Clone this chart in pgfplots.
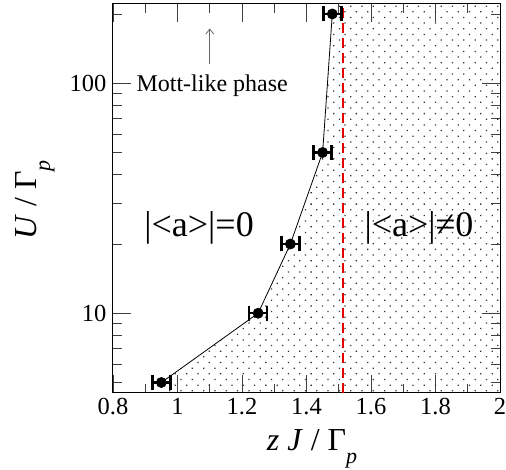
\documentclass[border=0pt]{standalone}
\usepackage{fontspec}
\setmainfont{Liberation Serif}
\usepackage{pgfplots}
\pgfplotsset{compat=1.18}
\usetikzlibrary{patterns.meta, arrows.meta}

\begin{document}
\begin{tikzpicture}
\path[use as bounding box] (-113bp,-77bp) rectangle (393bp,393bp);
\begin{axis}[
  at={(0,0)}, anchor=south west,
  width=387bp, height=389bp, scale only axis,
  ymode=log,
  xmin=0.8, xmax=2, ymin=4.5, ymax=221,
  xtick={0.8,1,1.2,1.4,1.6,1.8,2},
  xticklabels={0.8,1,1.2,1.4,1.6,1.8,2},
  minor xtick={0.9,1.1,1.3,1.5,1.7,1.9},
  ytick={10,100}, yticklabels={10,100},
  minor ytick={5,6,7,8,9,20,30,40,50,60,70,80,90,200},
  tick align=inside,
  major tick length=18bp, minor tick length=9bp,
  every tick/.style={black!75, line width=0.8bp},
  axis line style={line width=1bp},
  tick label style={font=\fontsize{24.5bp}{26bp}\selectfont},
  xticklabel style={yshift=-2bp},
  yticklabel style={xshift=-3bp},
]
% region where the condensate order parameter is finite
\addplot[draw=none, pattern={Dots[distance=8bp, angle=45, radius=0.9bp]}, pattern color=black!80]
  coordinates {(1.48,1000) (1.48,200) (1.45,50) (1.35,20) (1.25,10) (0.95,5) (0.95,1) (3,1) (3,1000)} -- cycle;

% mean-field critical coupling
\addplot[red!90!black, line width=2.7bp, dash pattern=on 10bp off 5bp]
  coordinates {(1.513,1) (1.513,1000)};

% numerical phase boundary with error bars
\addplot[black, line width=0.8bp, mark=*, mark size=5bp,
  error bars/.cd, x dir=both, x explicit,
  error mark=|,
  error bar style={line width=2.5bp},
  error mark options={line width=2.5bp, mark size=7.5bp}]
  coordinates {
    (0.95,5)   +- (0.028,0)
    (1.25,10)  +- (0.028,0)
    (1.35,20)  +- (0.028,0)
    (1.45,50)  +- (0.028,0)
    (1.48,200) +- (0.028,0)
  };

\node[anchor=base west, font=\fontsize{24bp}{27bp}\selectfont] at (axis cs:0.862,92.3) {Mott-like phase};
\draw[black!60, line width=0.8bp, -{Straight Barb[length=5bp,width=8bp]}] (axis cs:1.10,121) -- (axis cs:1.10,173);
\node[anchor=base, font=\fontsize{36bp}{40bp}\selectfont] at (axis cs:1.067,21.5) {|<a>|=0};
\node[anchor=base, font=\fontsize{36bp}{40bp}\selectfont] at (axis cs:1.749,21.5) {|<a>|≠0};
\end{axis}
\node[anchor=base, font=\fontsize{32bp}{35bp}\selectfont] at (199bp,-57bp)
  {\textit{z J} / Γ\raisebox{-13bp}{\fontsize{22bp}{24bp}\selectfont\textit{p}}};
\node[rotate=90, anchor=base, font=\fontsize{32bp}{35bp}\selectfont] at (-76bp,193bp)
  {\textit{U} / Γ\raisebox{-13bp}{\fontsize{22bp}{24bp}\selectfont\textit{p}}};
\end{tikzpicture}
\end{document}
